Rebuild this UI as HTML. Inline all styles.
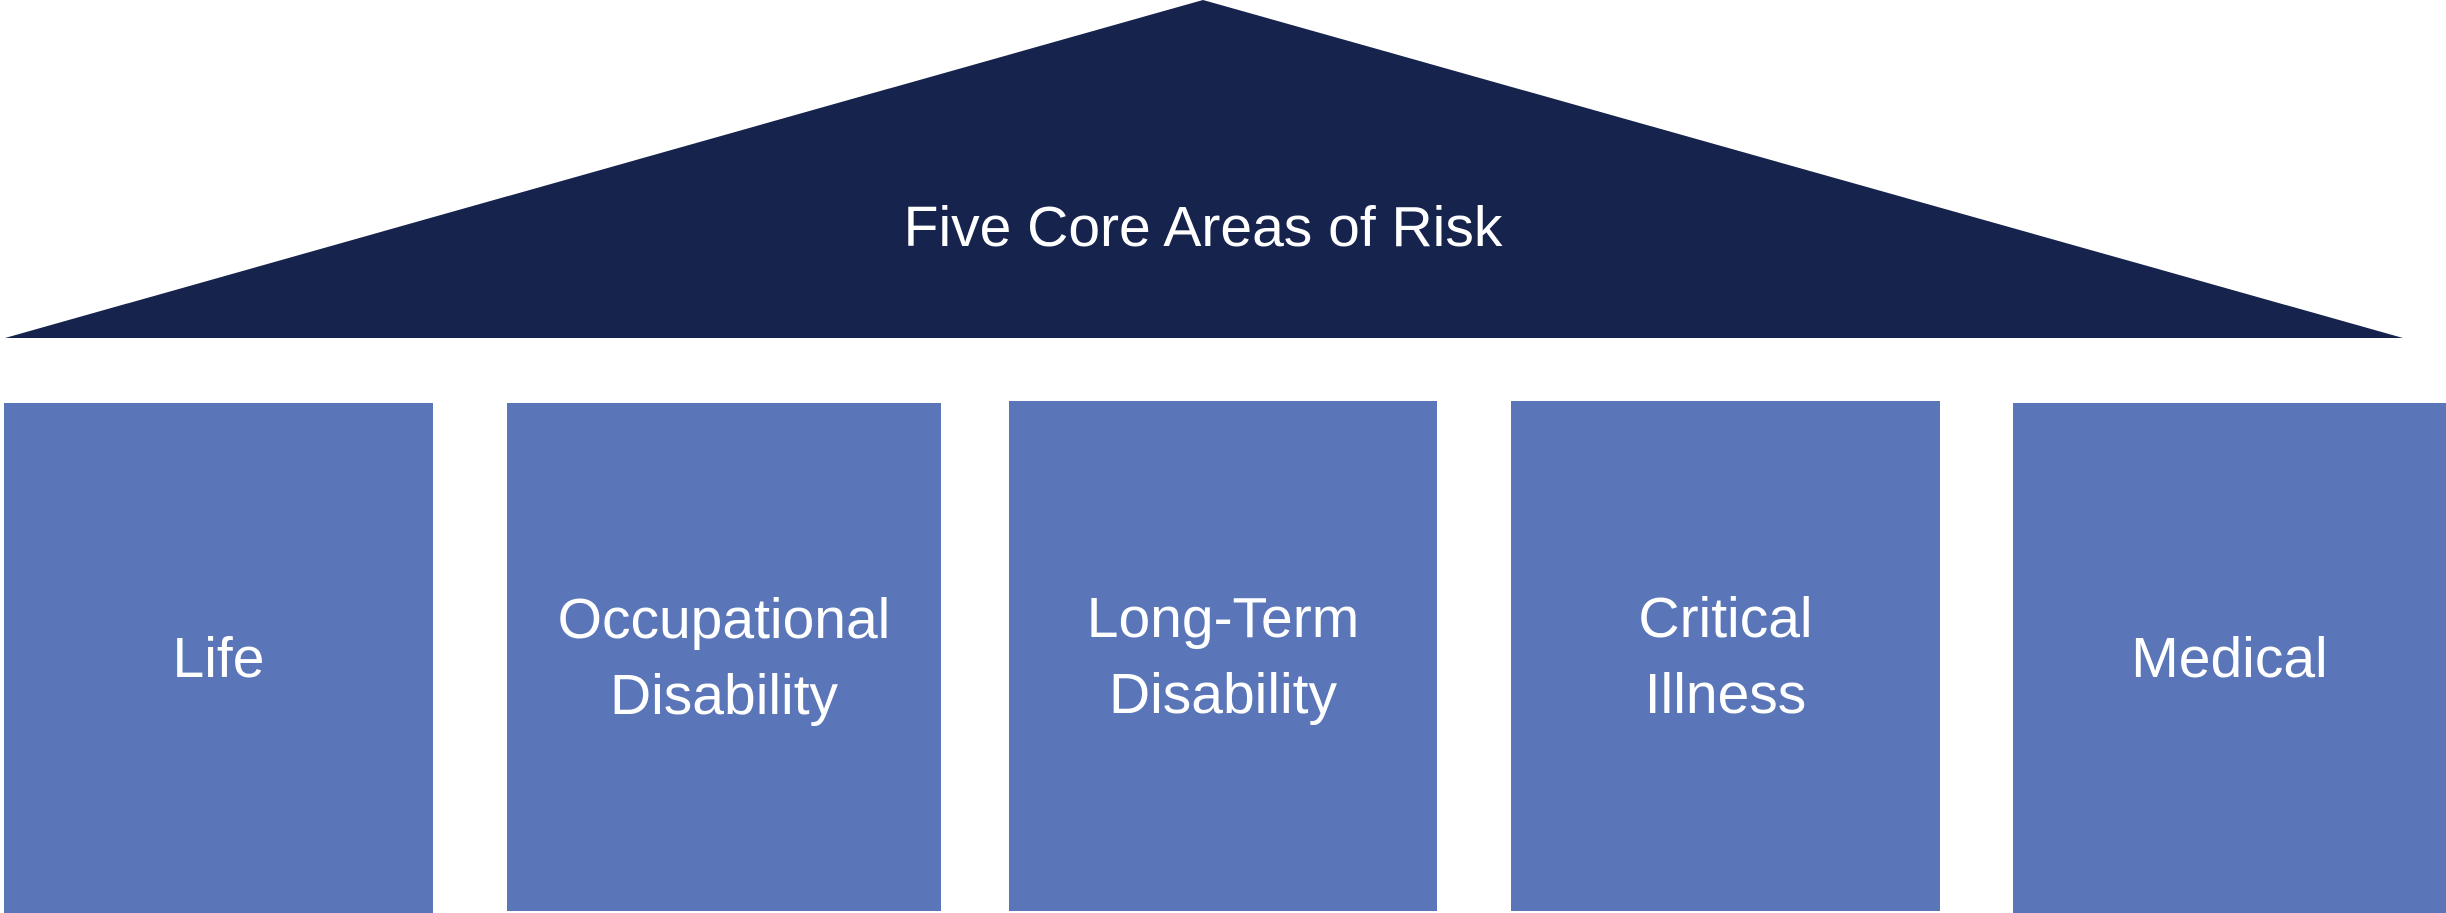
<!DOCTYPE html>
<html><head><meta charset="utf-8"><style>
html,body{margin:0;padding:0;background:#fff;}
body{width:2446px;height:913px;position:relative;overflow:hidden;font-family:"Liberation Sans",sans-serif;}
.b{position:absolute;background:#5a76b8;color:#fff;display:flex;align-items:center;justify-content:center;text-align:center;font-size:57px;line-height:76px;}
.t{position:absolute;left:0;width:2406px;top:192px;text-align:center;color:#fff;font-size:57px;line-height:70px;}
</style></head><body>
<svg width="2446" height="913" style="position:absolute;left:0;top:0">
<polygon points="1203,0 2403,338 5,338" fill="#16234d"/>
</svg>
<div class="t">Five Core Areas of Risk</div>
<div class="b" style="left:4px;top:403px;width:429px;height:510px">Life</div>
<div class="b" style="left:507px;top:403px;width:434px;height:508px">Occupational<br>Disability</div>
<div class="b" style="left:1009px;top:401px;width:428px;height:510px">Long-Term<br>Disability</div>
<div class="b" style="left:1511px;top:401px;width:429px;height:510px">Critical<br>Illness</div>
<div class="b" style="left:2013px;top:403px;width:433px;height:510px">Medical</div>
</body></html>
